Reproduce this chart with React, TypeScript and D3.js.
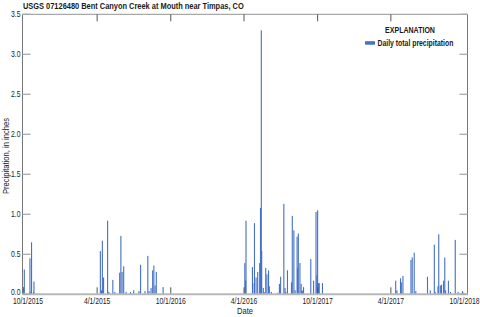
import React from "react";
import * as d3 from "d3";

const TITLE = "USGS 07126480 Bent Canyon Creek at Mouth near Timpas, CO";
const SERIES_NAME = "Daily total precipitation";

const dates: string[] = [
  "2015-10-01", "2015-10-03", "2015-10-17", "2015-10-19", "2015-10-21", "2015-10-26", "2015-10-27",
  "2016-04-09", "2016-04-12", "2016-04-14", "2016-04-17", "2016-04-27", "2016-04-30", "2016-05-10",
  "2016-05-15", "2016-05-27", "2016-05-30", "2016-06-02", "2016-06-06", "2016-06-12", "2016-06-23",
  "2016-07-01", "2016-07-14", "2016-07-18", "2016-07-29", "2016-08-05", "2016-08-08", "2016-08-13",
  "2016-08-17", "2016-08-20", "2016-08-23", "2016-08-26", "2016-09-12",
  "2017-04-03", "2017-04-05", "2017-04-06", "2017-04-22", "2017-04-23", "2017-04-27", "2017-05-01",
  "2017-05-05", "2017-05-10", "2017-05-12", "2017-05-14", "2017-05-15", "2017-05-19", "2017-05-21",
  "2017-05-25", "2017-05-28", "2017-06-01", "2017-06-03", "2017-06-08", "2017-06-24", "2017-06-28",
  "2017-07-01", "2017-07-09", "2017-07-12", "2017-07-14", "2017-07-18", "2017-07-28", "2017-07-30",
  "2017-08-03", "2017-08-06", "2017-08-11", "2017-08-12", "2017-08-14", "2017-08-18", "2017-08-21",
  "2017-08-22", "2017-08-25", "2017-08-27", "2017-09-14", "2017-09-21", "2017-09-27", "2017-09-29",
  "2017-10-01", "2017-10-03", "2017-10-05", "2017-10-13",
  "2018-04-13", "2018-04-16", "2018-04-25", "2018-04-27", "2018-05-01", "2018-05-21", "2018-05-24",
  "2018-05-29", "2018-06-02", "2018-07-01", "2018-07-08", "2018-07-18", "2018-07-20", "2018-07-27",
  "2018-07-29", "2018-08-02", "2018-08-05", "2018-08-10", "2018-08-13", "2018-08-15", "2018-08-22",
  "2018-08-27", "2018-09-08", "2018-09-15", "2018-09-26", "2018-09-29",
];

const precip: number[] = [
  0.09, 0.31, 0.45, 0.03, 0.65, 0.03, 0.16,
  0.54, 0.05, 0.67, 0.21, 0.92, 0.03, 0.18,
  0.03, 0.27, 0.73, 0.28, 0.35, 0.03, 0.03,
  0.05, 0.04, 0.37, 0.04, 0.48, 0.04, 0.08,
  0.30, 0.36, 0.11, 0.28, 0.09,
  0.39, 0.17, 0.92, 0.34, 0.14, 0.89, 0.21,
  0.28, 0.39, 1.08, 3.30, 0.54, 0.08, 0.03,
  0.33, 0.25, 0.30, 0.10, 0.03, 0.02, 0.13,
  0.22, 1.13, 0.08, 0.03, 0.30, 0.15, 0.98,
  0.80, 0.05, 0.72, 0.33, 0.76, 0.39, 0.13,
  0.04, 0.05, 0.09, 0.44, 0.17, 1.03, 0.24,
  1.05, 0.14, 0.14, 0.14,
  0.17, 0.05, 0.20, 0.15, 0.23, 0.43, 0.46,
  0.52, 0.04, 0.22, 0.05, 0.62, 0.03, 0.10,
  0.75, 0.11, 0.12, 0.17, 0.46, 0.05, 0.17,
  0.03, 0.68, 0.03, 0.04, 0.02,
];

const xTickDates: string[] = [
  "2015-10-01", "2016-04-01", "2016-10-01", "2017-04-01", "2017-10-01", "2018-04-01", "2018-10-01",
];
const xTickLabels: string[] = [
  "10/1/2015", "4/1/2015", "10/1/2016", "4/1/2016", "10/1/2017", "4/1/2017", "10/1/2018",
];
const yTicks: number[] = [0, 0.5, 1.0, 1.5, 2.0, 2.5, 3.0, 3.5];

const W = 480;
const H = 317;
const FONT = "'Liberation Sans', Arial, sans-serif";
const SX = 0.8;
const BAR = "#4570c4";

const parse = d3.utcParse("%Y-%m-%d");

function Txt(props: {
  x: number;
  y: number;
  size: number;
  bold?: boolean;
  anchor?: "start" | "middle" | "end";
  rotate?: number;
  children: React.ReactNode;
}) {
  const { x, y, size, bold, anchor = "start", rotate = 0, children } = props;
  return (
    <text
      transform={`translate(${x},${y}) rotate(${rotate}) scale(${SX},1)`}
      fontSize={size}
      fontWeight={bold ? "bold" : "normal"}
      textAnchor={anchor}
      fill="#1a1a1a"
    >
      {children}
    </text>
  );
}

export default function App() {
  const frameL = 22.5, frameR = 467.5, frameT = 14.3, frameB = 294.3;
  const x = d3
    .scaleUtc()
    .domain([parse(xTickDates[0])!, parse(xTickDates[xTickDates.length - 1])!])
    .range([23.5, 464.5]);
  const y = d3.scaleLinear().domain([0, 3.5]).range([frameB, frameT]);
  const barW = 1.1;

  return (
    <svg
      width={W}
      height={H}
      style={{ position: "absolute", left: 0, top: 0, background: "#fff" }}
      fontFamily={FONT}
    >
      <rect x={0} y={0} width={W} height={H} fill="#fff" />
      <Txt x={23} y={9} size={9.3} bold>
        {TITLE}
      </Txt>

      {/* bars */}
      {dates.map((d, i) => {
        const xv = x(parse(d)!);
        const yv = y(precip[i]);
        return (
          <rect
            key={i}
            x={xv - barW / 2}
            y={yv}
            width={barW}
            height={frameB - yv}
            fill={BAR}
          />
        );
      })}

      {/* frame */}
      <line x1={frameL} x2={frameL} y1={frameT} y2={frameB} stroke="#777" strokeWidth={1} />
      <line x1={frameR} x2={frameR} y1={frameT} y2={frameB} stroke="#777" strokeWidth={1} />
      <line x1={frameL} x2={frameR} y1={frameT} y2={frameT} stroke="#777" strokeWidth={0.8} />
      <line x1={frameL} x2={frameR + 0.5} y1={frameB} y2={frameB} stroke="#b8b8b8" strokeWidth={2} />

      {/* y ticks */}
      {yTicks.map((t, i) => (
        <g key={i}>
          <line x1={frameL} x2={frameL + 8} y1={y(t)} y2={y(t)} stroke="#aaa" strokeWidth={1.3} />
          <line x1={frameR - 8} x2={frameR} y1={y(t)} y2={y(t)} stroke="#aaa" strokeWidth={1.3} />
          <Txt x={20.5} y={y(t) + (t === 0 ? 0.8 : 3)} size={8.5} anchor="end">
            {t.toFixed(1)}
          </Txt>
        </g>
      ))}

      {/* x ticks */}
      {xTickDates.map((d, i) => {
        const xv = x(parse(d)!);
        const lx = i === 0 ? xv + 4.5 : xv;
        return (
          <g key={i}>
            {i > 0 && i < xTickDates.length - 1 && (
              <>
                <line x1={xv} x2={xv} y1={frameB - 1} y2={frameB - 7} stroke="#555" strokeWidth={1} />
                <line x1={xv} x2={xv} y1={frameT} y2={frameT + 7} stroke="#555" strokeWidth={1} />
              </>
            )}
            <Txt x={lx} y={303.5} size={8.5} anchor="middle">
              {xTickLabels[i]}
            </Txt>
          </g>
        );
      })}

      {/* axis titles */}
      <Txt x={245} y={313.5} size={9.5} anchor="middle">
        Date
      </Txt>
      <Txt x={8.5} y={156} size={9.5} anchor="middle" rotate={-90}>
        Precipitation, in inches
      </Txt>

      {/* legend */}
      <Txt x={410} y={32.5} size={8.8} bold anchor="middle">
        EXPLANATION
      </Txt>
      <rect x={365} y={41.2} width={10} height={3.5} fill="#4472c4" />
      <Txt x={377.5} y={45.5} size={8.6} bold>
        {SERIES_NAME}
      </Txt>
    </svg>
  );
}
